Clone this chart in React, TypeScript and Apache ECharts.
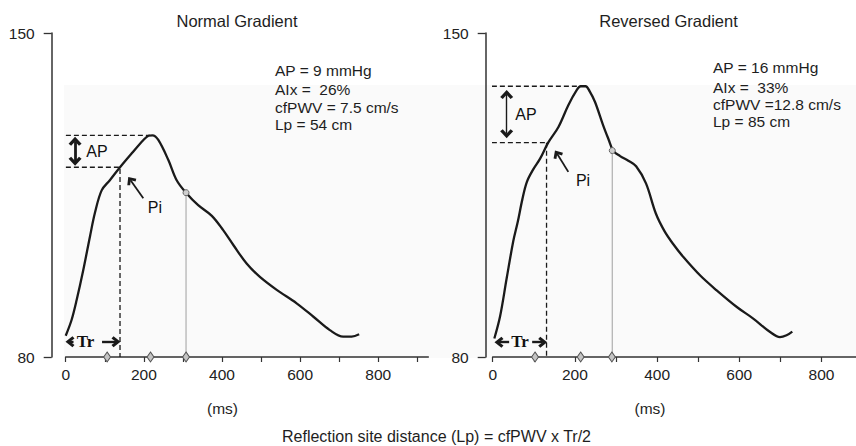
import React, { useEffect, useRef } from "react";
import * as echarts from "echarts";

// ---- data ----
const leftX = [0, 15, 28, 45, 62, 75, 92, 113, 139, 169, 199, 212, 222, 237, 263, 284, 308, 339, 374, 403, 429, 463, 497, 540, 591, 634, 676, 710, 732, 751];
const leftY = [84.6, 88, 92.3, 98.8, 106, 111.2, 116, 118.2, 121.0, 124, 126.9, 127.8, 127.9, 126.9, 122.5, 118.2, 115.5, 112.8, 110.5, 107.4, 104.2, 100.2, 97.3, 94.5, 91.6, 88.7, 85.8, 84.4, 84.4, 84.9];
const rightX = [4, 18, 34, 50, 61, 72, 83, 99, 115, 135, 160, 184, 204, 214, 226, 236, 249, 269, 282, 293, 310, 330, 349, 373, 397, 418, 440, 464, 505, 545, 594, 634, 675, 699, 715, 729];
const rightY = [84.0, 88.8, 97, 105, 109.2, 114, 117.8, 120.6, 122.8, 126.3, 129.7, 134.4, 137.6, 138.5, 138.5, 137.4, 135.1, 130, 127, 124.6, 123.4, 122.4, 121.2, 117.5, 111, 107.2, 104.3, 101.6, 97.6, 94.4, 90.8, 88.3, 85.4, 84.3, 84.7, 85.5];

const yTicks = [80, 150];
const leftXTicks = [0, 100, 200, 300, 400, 500, 600, 700, 800, 900];
const rightXTicks = [0, 100, 200, 300, 400, 500, 600, 700, 800];
const xLabels = [0, 200, 400, 600, 800];

const leftDiamonds = [106, 217, 308];
const rightDiamonds = [103, 214, 290];

// annotation anchors (data coordinates)
const leftPeak = [222, 127.9];
const leftPi = [139, 121.0];
const leftNotch = [308, 115.5];
const rightPeak = [214, 138.5];
const rightPi = [135, 126.3];
const rightTrX = 131;
const rightNotch = [291, 124.6];

const leftStats = ["AP = 9 mmHg", "AIx =  26%", "cfPWV = 7.5 cm/s", "Lp = 54 cm"];
const rightStats = ["AP = 16 mmHg", "AIx =  33%", "cfPWV =12.8 cm/s", "Lp = 85 cm"];

const FONT = "'Liberation Sans', Arial, Helvetica, sans-serif";
const INK = "#1a1a1a";
const CHEV = "path://M0,8.5 L7,0 L14,8.5 L11.2,11 L7,5.8 L2.8,11 Z";

function pairs(xs: number[], ys: number[]) {
  return xs.map((x, i) => [x, ys[i]]);
}

function dashed(data: number[][], xi: number) {
  return {
    type: "line",
    xAxisIndex: xi,
    yAxisIndex: xi,
    data,
    symbol: "none",
    clip: false,
    silent: true,
    lineStyle: { color: INK, width: 1.3, type: [5, 3] },
    z: 3,
  };
}

function grayLine(p: number[], xi: number) {
  return {
    type: "line",
    xAxisIndex: xi,
    yAxisIndex: xi,
    data: [p, [p[0], 80]],
    symbol: "none",
    silent: true,
    lineStyle: { color: "#b4b4b4", width: 1.3 },
    z: 3,
  };
}

function xAxis(gi: number, max: number, ticks: number[]) {
  return {
    gridIndex: gi,
    type: "value",
    min: 0,
    max,
    splitLine: { show: false },
    axisLine: { show: true, onZero: false, lineStyle: { color: "#333", width: 1.5 } },
    axisTick: { show: true, length: 5, customValues: ticks, lineStyle: { color: "#333", width: 1.2 } },
    axisLabel: { customValues: xLabels, margin: 9, fontSize: 15.5, color: "#222", fontFamily: FONT },
  };
}

function yAxis(gi: number, offset: number) {
  return {
    gridIndex: gi,
    type: "value",
    min: 80,
    max: 150,
    position: "left",
    offset,
    splitLine: { show: false },
    axisLine: { show: true, onZero: false, lineStyle: { color: "#333", width: 1.5 } },
    axisTick: { show: true, length: 8, customValues: yTicks, lineStyle: { color: "#333", width: 1.3 } },
    axisLabel: { customValues: yTicks, margin: 17, fontSize: 15.5, color: "#222", fontFamily: FONT },
  };
}

function labelSeries(items: any[], xi: number) {
  return {
    type: "scatter",
    xAxisIndex: xi,
    yAxisIndex: xi,
    symbolSize: 1,
    silent: true,
    itemStyle: { color: "rgba(0,0,0,0)", opacity: 1 },
    label: {
      show: true,
      position: "inside",
      formatter: "{b}",
      fontSize: 16,
      color: "#111",
      opacity: 1,
      textBorderWidth: 0,
      fontFamily: FONT,
    },
    data: items,
    z: 6,
  };
}

function markerSeries(xs: number[], notch: number[], xi: number) {
  return [
    {
      type: "scatter",
      xAxisIndex: xi,
      yAxisIndex: xi,
      symbol: "diamond",
      symbolSize: [7, 10],
      silent: true,
      clip: false,
      itemStyle: { color: "#c4c4c4", borderColor: "#555", borderWidth: 1, opacity: 1 },
      data: xs.map((x) => [x, 80]),
      z: 7,
    },
    {
      type: "scatter",
      xAxisIndex: xi,
      yAxisIndex: xi,
      symbol: "circle",
      symbolSize: 6,
      silent: true,
      itemStyle: { color: "#cfcfcf", borderColor: "#666", borderWidth: 1, opacity: 1 },
      data: [notch],
      z: 7,
    },
  ];
}

function arrow(from: number[], to: number[], width: number, both: boolean, size: number[]) {
  return [
    { coord: from, symbol: both ? CHEV : "none", symbolSize: size, lineStyle: { width } },
    { coord: to, symbol: CHEV, symbolSize: size },
  ];
}

export default function App() {
  const ref = useRef<HTMLDivElement>(null);

  useEffect(() => {
    if (!ref.current) return;
    const chart = echarts.init(ref.current, undefined, { renderer: "svg" });

    const leftArrows = [
      arrow([24, 126.6], [24, 122.3], 2.8, true, [13, 9]),
      arrow([198.6, 114.3], [166, 118.2], 1.8, false, [11, 8]),
      arrow([20, 83.3], [11, 83.3], 2.4, false, [11, 9]),
      arrow([93, 83.3], [128.7, 83.3], 2.4, false, [11, 9]),
    ];
    const rightArrows = [
      arrow([34, 136.7], [34, 128.25], 1.4, true, [13, 9]),
      arrow([184, 120], [156.7, 123.9], 1.8, false, [11, 8]),
      arrow([40, 83.2], [15.3, 83.2], 2.4, false, [11, 9]),
      arrow([96, 83.2], [121.7, 83.2], 2.4, false, [11, 9]),
    ];

    const markLine = (data: any[]) => ({
      silent: true,
      symbol: "none",
      label: { show: false },
      emphasis: { disabled: true },
      lineStyle: { type: "solid", color: INK },
      data,
    });

    const trLabel = { fontFamily: "'Liberation Serif', 'Times New Roman', serif", fontWeight: "bold", fontSize: 17 };

    const statText = (lines: string[], x: number, ys: number[]) =>
      lines.map((t, i) => ({
        type: "text",
        x,
        y: ys[i],
        silent: true,
        style: { text: t, fontSize: 15.5, fontFamily: FONT, fill: "#1e1e1e", align: "left", verticalAlign: "middle" },
      }));

    const centerText = (t: string, x: number, y: number, size: number) => ({
      type: "text",
      x,
      y,
      silent: true,
      style: { text: t, fontSize: size, fontFamily: FONT, fill: "#1e1e1e", align: "center", verticalAlign: "middle" },
    });

    chart.setOption({
      animation: false,
      backgroundColor: "#ffffff",
      textStyle: { fontFamily: FONT },
      grid: [
        { left: 65.7, top: 33, width: 362.6, height: 324 },
        { left: 492.7, top: 33, width: 363.3, height: 324 },
      ],
      xAxis: [xAxis(0, 928, leftXTicks), xAxis(1, 884, rightXTicks)],
      yAxis: [yAxis(0, 14), yAxis(1, 7)],
      graphic: [
        { type: "rect", z: -10, silent: true, shape: { x: 64, y: 85, width: 792, height: 273 }, style: { fill: "#fafafa" } },
        centerText("Normal Gradient", 237, 21, 16.5),
        centerText("Reversed Gradient", 668.5, 21, 16.5),
        ...statText(leftStats, 275, [70, 89.5, 107.5, 124.5]),
        ...statText(rightStats, 713, [67.5, 87, 104.5, 121.5]),
        centerText("(ms)", 222.5, 408.5, 15.5),
        centerText("(ms)", 650, 408.5, 15.5),
        centerText("Reflection site distance (Lp) = cfPWV x Tr/2", 436.5, 436.5, 16),
      ],
      series: [
        // left panel
        dashed([[-20, leftPeak[1]], [leftPeak[0] - 6, leftPeak[1]]], 0),
        dashed([[-20, leftPi[1]], [leftPi[0], leftPi[1]], [leftPi[0], 80]], 0),
        grayLine(leftNotch, 0),
        {
          type: "line",
          xAxisIndex: 0,
          yAxisIndex: 0,
          data: pairs(leftX, leftY),
          smooth: 0.35,
          symbol: "none",
          silent: true,
          lineStyle: { color: INK, width: 2.3 },
          z: 5,
          markLine: markLine(leftArrows),
        },
        ...markerSeries(leftDiamonds, leftNotch, 0),
        labelSeries(
          [
            { name: "AP", value: [80, 124.3] },
            { name: "Pi", value: [228.5, 112.4] },
            { name: "Tr", value: [50.6, 83.4], label: trLabel },
          ],
          0
        ),
        // right panel
        dashed([[-2, rightPeak[1]], [rightPeak[0], rightPeak[1]]], 1),
        dashed([[-2, rightPi[1]], [rightPi[0], rightPi[1]]], 1),
        dashed([[rightTrX, rightPi[1]], [rightTrX, 80]], 1),
        grayLine(rightNotch, 1),
        {
          type: "line",
          xAxisIndex: 1,
          yAxisIndex: 1,
          data: pairs(rightX, rightY),
          smooth: 0.35,
          symbol: "none",
          silent: true,
          lineStyle: { color: INK, width: 2.3 },
          z: 5,
          markLine: markLine(rightArrows),
        },
        ...markerSeries(rightDiamonds, rightNotch, 1),
        labelSeries(
          [
            { name: "AP", value: [81, 132.4] },
            { name: "Pi", value: [219.7, 118.2] },
            { name: "Tr", value: [66.4, 83.3], label: trLabel },
          ],
          1
        ),
      ],
    });

    return () => chart.dispose();
  }, []);

  return <div ref={ref} style={{ position: "fixed", left: 0, top: 0, width: 856, height: 446 }} />;
}
